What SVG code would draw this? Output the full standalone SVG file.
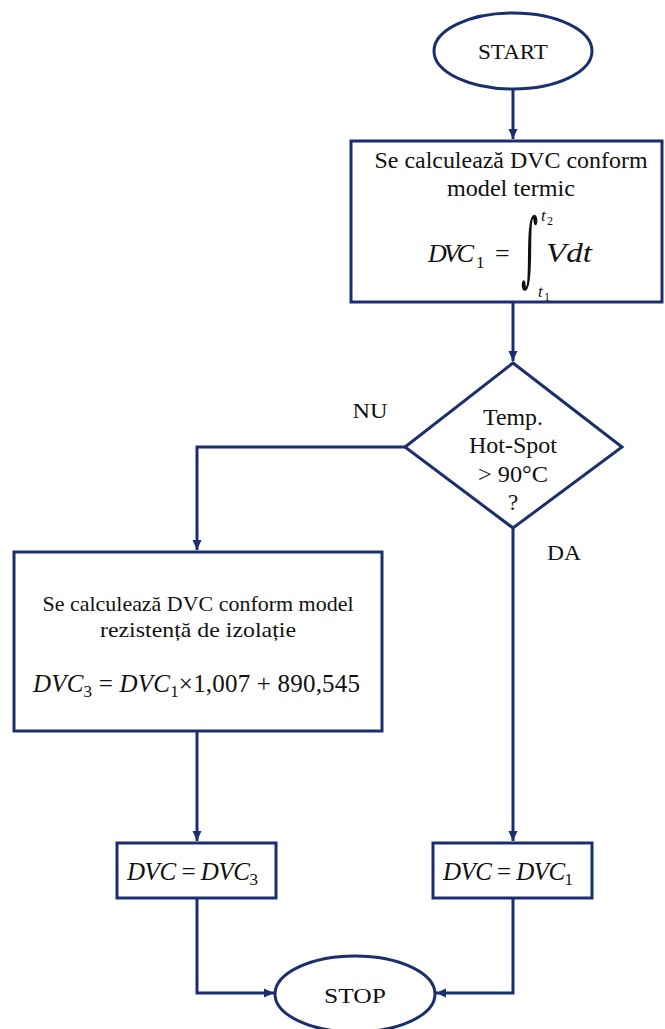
<svg xmlns="http://www.w3.org/2000/svg" width="665" height="1029" viewBox="0 0 665 1029">
<style>
.sh{fill:#fff;stroke:#1b2f6e;stroke-width:3}
.cn{fill:none;stroke:#1b2f6e;stroke-width:3}
.t{font-family:'Liberation Serif','Tinos','Times New Roman','DejaVu Serif',serif;fill:#111;text-anchor:middle}
.m{font-family:'Liberation Serif','Tinos','Times New Roman','DejaVu Serif',serif;fill:#111}
.i{font-style:italic}
</style>
<defs>
<marker id="ah" markerUnits="userSpaceOnUse" markerWidth="11" markerHeight="11" refX="10" refY="5" orient="auto">
<path d="M0,0.5 L10,5 L0,9.5 z" fill="#1b2f6e"/>
</marker>
</defs>
<rect width="665" height="1029" fill="#fff"/>
<g id="connectors">
<path class="cn" d="M513,89 V139" marker-end="url(#ah)"/>
<path class="cn" d="M513,302 V361" marker-end="url(#ah)"/>
<path class="cn" d="M406,447 H197 V550" marker-end="url(#ah)"/>
<path class="cn" d="M513,528 V841" marker-end="url(#ah)"/>
<path class="cn" d="M197,731 V841" marker-end="url(#ah)"/>
<path class="cn" d="M197,898 V993 H274" marker-end="url(#ah)"/>
<path class="cn" d="M513,898 V993 H436" marker-end="url(#ah)"/>
<text class="t" x="370" y="418" font-size="20" textLength="35" lengthAdjust="spacingAndGlyphs">NU</text>
<text class="t" x="564" y="560" font-size="20" textLength="34" lengthAdjust="spacingAndGlyphs">DA</text>
</g>
<g id="start">
<ellipse class="sh" cx="513" cy="51" rx="79" ry="38"/>
<text class="t" x="513" y="59" font-size="22" textLength="70" lengthAdjust="spacingAndGlyphs">START</text>
</g>
<g id="calc1">
<rect class="sh" x="351" y="141" width="311" height="161"/>
<text class="t" x="511" y="168" font-size="24" textLength="273" lengthAdjust="spacingAndGlyphs">Se calculează DVC conform</text>
<text class="t" x="511" y="196" font-size="24" textLength="128" lengthAdjust="spacingAndGlyphs">model termic</text>
<text class="m i" x="428" y="262" font-size="26" textLength="46" lengthAdjust="spacing">DVC</text>
<text class="m" x="476" y="268" font-size="17">1</text>
<text class="m" x="495" y="262" font-size="26">=</text>
<text font-size="60" style="font-family:'DejaVu Serif',serif;fill:#111" transform="translate(521,276) scale(0.55,1.35)">∫</text>
<text class="m i" x="541" y="221" font-size="17">t</text>
<text class="m" x="547" y="225" font-size="12">2</text>
<text class="m i" x="538" y="297" font-size="17">t</text>
<text class="m" x="544" y="301" font-size="12">1</text>
<text class="m i" x="546" y="262" font-size="28" textLength="46" lengthAdjust="spacingAndGlyphs">Vdt</text>
</g>
<g id="decision">
<polygon class="sh" points="513,363 622,447 513,528 405,447"/>
<text class="t" x="513" y="425" font-size="23" textLength="60" lengthAdjust="spacingAndGlyphs">Temp.</text>
<text class="t" x="513" y="453" font-size="23" textLength="88" lengthAdjust="spacingAndGlyphs">Hot-Spot</text>
<text class="t" x="513" y="482" font-size="23" textLength="70" lengthAdjust="spacingAndGlyphs">&gt; 90°C</text>
<text class="t" x="513" y="510" font-size="23">?</text>
</g>
<g id="calc3">
<rect class="sh" x="14" y="552" width="368" height="179"/>
<text class="t" x="198" y="611" font-size="22" textLength="311" lengthAdjust="spacingAndGlyphs">Se calculează DVC conform model</text>
<text class="t" x="198" y="637" font-size="22" textLength="196" lengthAdjust="spacingAndGlyphs">rezistență de izolație</text>
<text class="m" x="33" y="692" font-size="25" textLength="327" lengthAdjust="spacing"><tspan class="i">DVC</tspan><tspan font-size="17" dy="5">3</tspan><tspan dy="-5"> = </tspan><tspan class="i">DVC</tspan><tspan font-size="17" dy="5">1</tspan><tspan dy="-5">×1,007 + 890,545</tspan></text>
</g>
<g id="dvc3">
<rect class="sh" x="117" y="843" width="159" height="55"/>
<text class="m" x="127" y="880" font-size="25" textLength="131" lengthAdjust="spacing"><tspan class="i">DVC</tspan> = <tspan class="i">DVC</tspan><tspan font-size="17" dy="5">3</tspan></text>
</g>
<g id="dvc1">
<rect class="sh" x="433" y="843" width="159" height="55"/>
<text class="m" x="443" y="880" font-size="25" textLength="130" lengthAdjust="spacing"><tspan class="i">DVC</tspan> = <tspan class="i">DVC</tspan><tspan font-size="17" dy="5">1</tspan></text>
</g>
<g id="stop">
<ellipse class="sh" cx="355" cy="994" rx="80" ry="38"/>
<text class="t" x="355" y="1003" font-size="22" textLength="62" lengthAdjust="spacingAndGlyphs">STOP</text>
</g>
</svg>
